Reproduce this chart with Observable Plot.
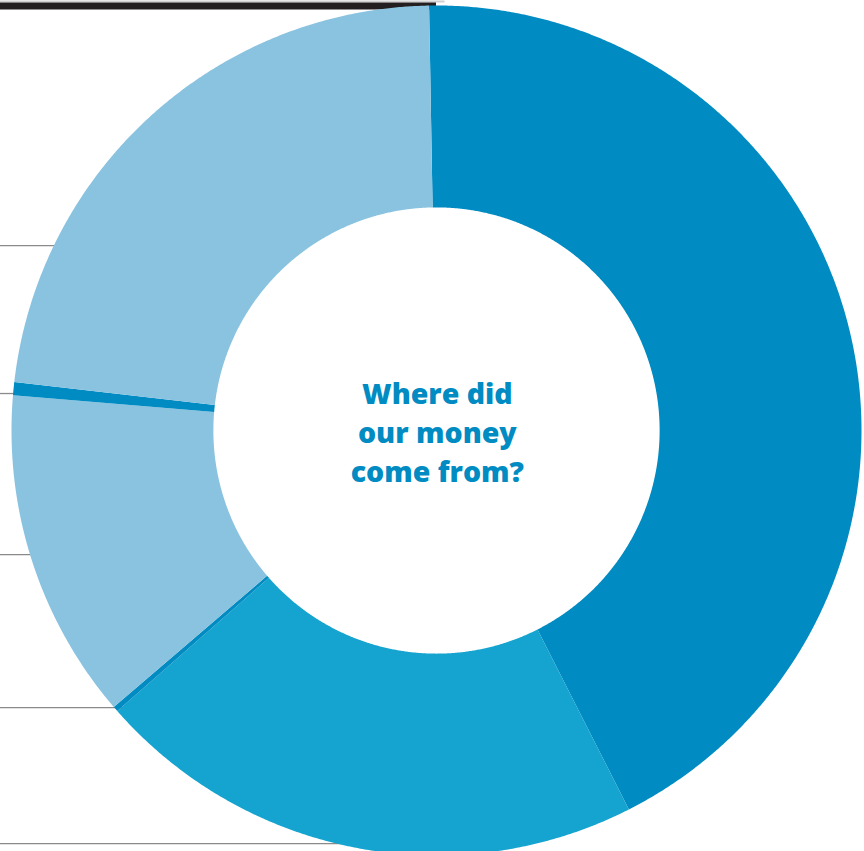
<!DOCTYPE html>
<html>
<head>
<meta charset="utf-8">
<script src="https://cdn.jsdelivr.net/npm/d3@7"></script>
<script src="https://cdn.jsdelivr.net/npm/@observablehq/plot@0.6"></script>
<style>
  html, body { margin: 0; padding: 0; background: #ffffff; }
  #chart { width: 864px; height: 851px; overflow: hidden; }
</style>
</head>
<body>
<div id="chart"></div>
<script>
// ---- data ----
const categories = ["Source A", "Source B", "Source C", "Source D", "Source E", "Source F"];
const values = [42.8, 21.0, 0.2, 12.6, 0.5, 22.9];
const sliceColors = ["#008bc2", "#14a4cf", "#008bc2", "#8ac3e0", "#008bc2", "#8ac3e0"];
const centerLabel = "Where did\nour money\ncome from?";
// leader lines (one per labelled slice on the left), heights in units of the outer radius
const leaderY = [0.435, 0.087, -0.292, -0.652, -0.972];

// ---- geometry of the donut in data units ----
const outerR = 1, innerR = 0.525;
const startDeg = -1;

const pie = d3.pie().sort(null).value(d => d.value)
  .startAngle(startDeg * Math.PI / 180)
  .endAngle((startDeg + 360) * Math.PI / 180);
const arcs = pie(categories.map((c, i) => ({category: c, value: values[i]})));

const pts = [];
for (const a of arcs) {
  const n = Math.max(4, Math.ceil((a.endAngle - a.startAngle) / 0.005));
  const ring = [];
  for (let k = 0; k <= n; k++) {
    const t = a.startAngle + (a.endAngle - a.startAngle) * k / n;
    ring.push({x: outerR * Math.sin(t), y: outerR * Math.cos(t)});
  }
  for (let k = n; k >= 0; k--) {
    const t = a.startAngle + (a.endAngle - a.startAngle) * k / n;
    ring.push({x: innerR * Math.sin(t), y: innerR * Math.cos(t)});
  }
  ring.push(ring[0]);
  for (const p of ring) pts.push({...p, category: a.data.category});
}

const W = 864, H = 851, cx = 436, cy = 430, R = 425;
const xDomain = [-cx / R, (W - cx) / R];
const yDomain = [-(H - cy) / R, cy / R];

const leaders = leaderY.map(y => ({y, x2: -Math.sqrt(Math.max(0, 1 - y * y)) + 0.02}));

const chart = Plot.plot({
  width: W,
  height: H,
  margin: 0,
  x: {domain: xDomain, axis: null},
  y: {domain: yDomain, axis: null},
  color: {domain: categories, range: sliceColors},
  marks: [
    Plot.ruleY([yDomain[1] - 1 / R], {x1: xDomain[0], x2: 0.02, stroke: "#d0d0d0", strokeWidth: 2}),
    Plot.ruleY([yDomain[1] - 5.5 / R], {x1: xDomain[0], x2: 0, stroke: "#231f20", strokeWidth: 7}),
    Plot.ruleY(leaders, {y: "y", x1: xDomain[0], x2: "x2", stroke: "#8a8a8a", strokeWidth: 1.3}),
    Plot.line(pts, {x: "x", y: "y", z: "category", fill: "category", stroke: null, curve: "linear"}),
    Plot.text([centerLabel], {
      x: 0.002, y: 0.0, text: d => d,
      fill: "#008bc2", fontSize: 28.5, fontWeight: 800, lineHeight: 1.37,
      fontFamily: "'Open Sans', sans-serif", textAnchor: "middle"
    })
  ]
});
document.getElementById("chart").appendChild(chart);
</script>
</body>
</html>
